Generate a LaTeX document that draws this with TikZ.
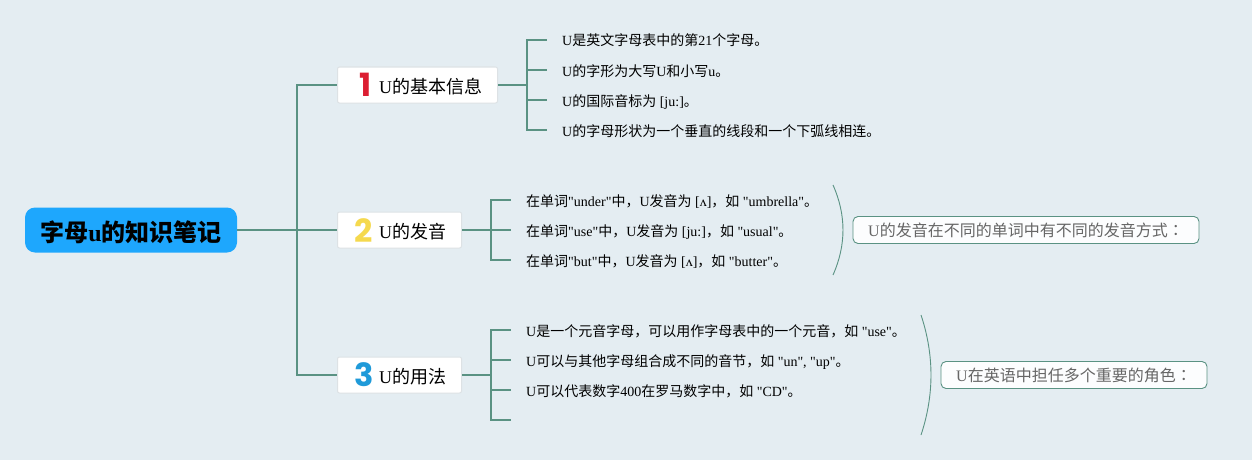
\documentclass[tikz,border=0pt]{standalone}
\usepackage{fontspec}
\setmainfont{Liberation Serif}
\newfontfamily\latf{Liberation Serif}
\newfontfamily\cjkf{Noto Sans CJK SC}
\newfontfamily\cjkt{Noto Sans CJK TC}
\newfontfamily\numf{Poppins}
\newcommand{\C}[1]{{\cjkf #1}}
\definecolor{bg}{HTML}{E4EDF2}
\definecolor{line}{HTML}{5A9283}
\definecolor{rootc}{HTML}{1EA7FD}
\definecolor{topb}{HTML}{DDE2E5}
\definecolor{sumt}{HTML}{666666}
\definecolor{nred}{HTML}{DC1E32}
\definecolor{nyel}{HTML}{F5D94E}
\definecolor{nblu}{HTML}{1F9AD9}
\tikzset{
  x=1pt,y=-1pt,
  trunk/.style={draw=line,line width=2pt},
  bracket/.style={draw=line,line width=0.9pt},
  rootbox/.style={fill=rootc,rounded corners=10pt,minimum width=212pt,minimum height=45pt,inner sep=0pt,text height=23pt,text depth=0pt,font=\latf\bfseries\fontsize{24}{24}\selectfont},
  topicbox/.style={draw=topb,line width=1pt,fill=white,rounded corners=2pt,minimum height=36pt,inner sep=0pt,anchor=west},
  toptext/.style={inner sep=0pt,anchor=west,text height=14pt,text depth=0pt,font=\latf\fontsize{18}{18}\selectfont},
  digit/.style={inner sep=0pt,font=\numf\bfseries\fontsize{32}{32}\selectfont},
  leaf/.style={anchor=west,inner ysep=0pt,inner xsep=15pt,text height=12pt,text depth=2pt,font=\latf\fontsize{14}{14}\selectfont},
  sumbox/.style={draw=line,line width=0.9pt,fill=white!90!bg,rounded corners=5pt,minimum height=27pt,inner sep=0pt,text height=13pt,text depth=0pt,text=sumt,font=\latf\fontsize{16}{16}\selectfont},
}
\begin{document}
\begin{tikzpicture}
\fill[bg] (0,0) rectangle (1252,460);
\useasboundingbox (0,0) rectangle (1252,460);
% coordinates
\coordinate (rj) at (297,230);
\coordinate (j1) at (527,85);
\coordinate (j2) at (491,230);
\coordinate (j3) at (491,375);
\coordinate (l34) at (511,420);
\coordinate (b1a) at (833,185);
\coordinate (b1p) at (846.3,215);
\coordinate (b1q) at (846.3,245);
\coordinate (b1b) at (833,275);
\coordinate (b2a) at (921,315);
\coordinate (b2p) at (934.3,355);
\coordinate (b2q) at (934.3,395);
\coordinate (b2b) at (921,435);
% nodes
\node[rootbox] (root) at (131,230) {\C{字母}u\C{的知识笔记}};
\node[topicbox,minimum width=160pt] (t1) at (337,85) {};
\node[topicbox,minimum width=124pt] (t2) at (337,230) {};
\node[topicbox,minimum width=124pt] (t3) at (337,375) {};
\node[digit,text=nred] (n1) at (365.5,85) {1};
\node[digit,text=nyel] (n2) at (364,231) {2};
\node[digit,text=nblu] (n3) at (364.5,375) {3};
\node[toptext] (tt1) at (379,86) {U\C{的基本信息}};
\node[toptext] (tt2) at (379,231) {U\C{的发音}};
\node[toptext] (tt3) at (379,376) {U\C{的用法}};
\node[leaf] (l11) at (547,41) {U\C{是英文字母表中的第}21\C{个字母。}};
\node[leaf] (l12) at (547,71) {U\C{的字形为大写}U\C{和小写}u\C{。}};
\node[leaf] (l13) at (547,101) {U\C{的国际音标为} [ju:]\C{。}};
\node[leaf] (l14) at (547,131) {U\C{的字母形状为一个垂直的线段和一个下弧线相连。}};
\node[leaf] (l21) at (511,201) {\C{在单词}"under"\C{中，}U\C{发音为} [ʌ]\C{，如} "umbrella"\C{。}};
\node[leaf] (l22) at (511,231) {\C{在单词}"use"\C{中，}U\C{发音为} [ju:]\C{，如} "usual"\C{。}};
\node[leaf] (l23) at (511,261) {\C{在单词}"but"\C{中，}U\C{发音为} [ʌ]\C{，如} "butter"\C{。}};
\node[leaf] (l31) at (511,331) {U\C{是一个元音字母，可以用作字母表中的一个元音，如} "use"\C{。}};
\node[leaf] (l32) at (511,361) {U\C{可以与其他字母组合成不同的音节，如} "un", "up"\C{。}};
\node[leaf] (l33) at (511,391) {U\C{可以代表数字}400\C{在罗马数字中，如} "CD"\C{。}};
\node[sumbox,minimum width=346pt] (s1) at (1026,230) {U\C{的发音在不同的单词中有不同的发音方式}{\cjkt ：}};
\node[sumbox,minimum width=266pt] (s2) at (1074,375) {U\C{在英语中担任多个重要的角色}{\cjkt ：}};
% connectors
\draw[trunk] (root.east) -- (t2.west);
\draw[trunk] (rj) |- (t1.west);
\draw[trunk] (rj) |- (t3.west);
\draw[trunk] (t1.east) -- (j1);
\draw[trunk] (j1) |- ([yshift=1pt]l11.west);
\draw[trunk] (j1) |- ([yshift=1pt]l12.west);
\draw[trunk] (j1) |- ([yshift=1pt]l13.west);
\draw[trunk] (j1) |- ([yshift=1pt]l14.west);
\draw[trunk] (t2.east) -- (j2);
\draw[trunk] (j2) |- ([yshift=1pt]l21.west);
\draw[trunk] (j2) |- ([yshift=1pt]l22.west);
\draw[trunk] (j2) |- ([yshift=1pt]l23.west);
\draw[trunk] (t3.east) -- (j3);
\draw[trunk] (j3) |- ([yshift=1pt]l31.west);
\draw[trunk] (j3) |- ([yshift=1pt]l32.west);
\draw[trunk] (j3) |- ([yshift=1pt]l33.west);
\draw[trunk] (j3) |- (l34);
\draw[bracket] (b1a) .. controls (b1p) and (b1q) .. (b1b);
\draw[bracket] (b2a) .. controls (b2p) and (b2q) .. (b2b);
\end{tikzpicture}
\end{document}
